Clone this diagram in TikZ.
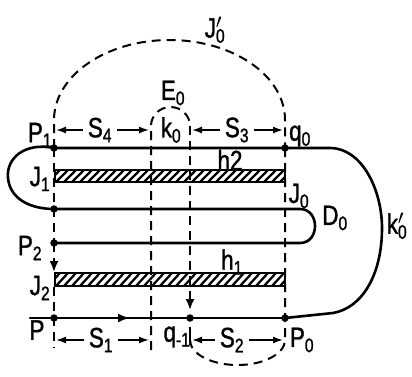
\documentclass[tikz,border=0pt]{standalone}
\usepackage{fontspec}
\setmainfont{Liberation Sans}[FakeStretch=0.8,FakeBold=1.2]
\usetikzlibrary{arrows.meta}
\tikzset{
  wire/.style={line width=2.6pt,line cap=round,line join=round},
  guide/.style={line width=2pt,dash pattern=on 9pt off 6pt},
  dimarrow/.style={line width=1.6pt,-{Latex[length=10pt,width=7pt]}},
  hatch/.style={line width=2.2pt},
  barbox/.style={line width=1.8pt},
  dot/.style={circle,fill,inner sep=0pt,minimum size=7.5pt},
  lbl/.style={font=\fontsize{28}{28}\selectfont,inner sep=1pt},
  dimtext/.style={lbl,inner sep=5pt},
}
\newcommand\pr{\rlap{\textsuperscript{$\prime$}}}
\begin{document}
\begin{tikzpicture}[x=1pt,y=-1pt]
  \useasboundingbox (0,0) rectangle (412,376);
  % junction points
  \coordinate (P1) at (54,148);
  \coordinate (J1) at (54,209);
  \coordinate (P2) at (54,243);
  \coordinate (P) at (54,318);
  \coordinate (q1) at (190,318);
  \coordinate (P0) at (285,318);
  \coordinate (q0) at (285,148);
  \coordinate (Pin) at (30,318);
  % conductor
  \draw[wire] (P1) -- (q0) -- (330,148) .. controls (362,148) and (382,190) .. (382,228)
    .. controls (382,275) and (362,308) .. (333,313) -- (P0);
  \draw[wire] (P1) .. controls (25,142) and (6,158) .. (8,178)
    .. controls (10,200) and (32,209) .. (J1);
  \draw[wire] (J1) -- (300,209) .. controls (320,209) and (320,243) .. (300,243) -- (P2);
  \draw[wire] (Pin) -- (P) -- (q1) -- (P0);
  \draw[wire,-{Latex[length=12pt,width=9pt]}] (P) -- (130,318);
  % hatched bars
  \foreach \ya/\yb in {170/182,273/286} {
    \begin{scope}
      \clip (55,\ya) rectangle (285,\yb);
      \foreach \x in {40,48,...,290} \draw[hatch] (\x,\yb) -- (\x+12,\ya);
    \end{scope}
    \draw[barbox] (55,\ya) rectangle (285,\yb);
  }
  % dashed guides
  \draw[guide] (P1) -- (54,120) arc[start angle=180,end angle=360,x radius=115.5,y radius=80] -- (q0);
  \draw[guide] (P1) -- (J1) -- (P2);
  \draw[guide,-{Latex[length=11pt,width=9pt]}] (P2) -- (54,272);
  \draw[guide] (54,287) -- (P) -- (54,348);
  \draw[guide] (q0) -- (P0) -- (285,340) arc[start angle=0,end angle=180,x radius=47.5,y radius=25];
  \draw[guide] (151,350) -- (151,126) arc[start angle=180,end angle=360,x radius=19.5,y radius=19] -- (190,126);
  \draw[guide,-{Latex[length=11pt,width=9pt]},shorten >=8pt] (190,126) -- (q1);
  \draw[line width=1.6pt] (190,327) -- (190,345);
  % dots
  \foreach \p in {P1,J1,P2,P,q1,P0,q0} \node[dot] at (\p) {};
  % dimensions
  \node[dimtext] (S4) at (100,130) {S\textsubscript{4}};
  \node[dimtext] (S3) at (237,130) {S\textsubscript{3}};
  \node[dimtext] (S1) at (101,340) {S\textsubscript{1}};
  \node[dimtext] (S2) at (232,340) {S\textsubscript{2}};
  \draw[dimarrow] (S4.west) -- (56,130);
  \draw[dimarrow] (S4.east) -- (149,130);
  \draw[dimarrow] (S3.west) -- (192,130);
  \draw[dimarrow] (S3.east) -- (283,130);
  \draw[dimarrow] (S1.west) -- (56,340);
  \draw[dimarrow] (S1.east) -- (149,340);
  \draw[dimarrow] (S2.west) -- (192,340);
  \draw[dimarrow] (S2.east) -- (283,340);
  % labels
  \node[lbl] (lJ0p) at (215,30) {J\pr\textsubscript{0}};
  \node[lbl] (lE0) at (173,93) {E\textsubscript{0}};
  \node[lbl] (lk0) at (171,130) {k\textsubscript{0}};
  \node[lbl] (lP1) at (40,135) {P\textsubscript{1}};
  \node[lbl] (lq0) at (300,136) {q\textsubscript{0}};
  \node[lbl] (lh2) at (230,160) {h2};
  \node[lbl] (lJ1) at (40,179) {J\textsubscript{1}};
  \node[lbl] (lJ0) at (299,196) {J\textsubscript{0}};
  \node[lbl] (lD0) at (335,218) {D\textsubscript{0}};
  \node[lbl] (lk0p) at (397,226) {k\pr\textsubscript{0}};
  \node[lbl] (lP2) at (30,248) {P\textsubscript{2}};
  \node[lbl] (lh1) at (232,262) {h\textsubscript{1}};
  \node[lbl] (lJ2) at (40,288) {J\textsubscript{2}};
  \node[lbl] (lP) at (37,330) {P};
  \node[lbl] (lq1) at (177,337) {q\textsubscript{-1}};
  \node[lbl] (lP0) at (302,340) {P\textsubscript{0}};
\end{tikzpicture}
\end{document}
